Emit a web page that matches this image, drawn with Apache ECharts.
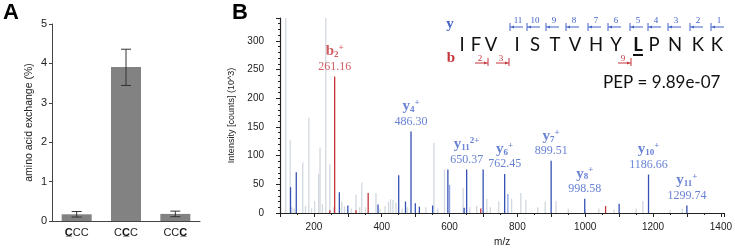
<!DOCTYPE html>
<html>
<head>
<meta charset="utf-8">
<script src="https://cdn.jsdelivr.net/npm/echarts@6/dist/echarts.min.js"></script>
<style>
  html, body { margin: 0; padding: 0; background: #fff; }
  #main { width: 735px; height: 252px; }
</style>
</head>
<body>
<div id="main"></div>
<script>
// ---- panel A data ----
const codons = ['C\u0332CC', 'CC\u0332C', 'CCC\u0332'];
const exchange = [0.17, 3.91, 0.18];
const errLow = [0.1, 3.44, 0.11];
const errHigh = [0.24, 4.36, 0.25];

// ---- panel B data: [m/z, intensity (10^3)] ----
const unassigned = [
  [117, 340], [130, 127], [135, 10], [142, 8], [167, 88], [175, 12], [185, 166], [193, 8],
  [202, 21], [214, 68], [218, 114], [225, 15], [235, 340], [247, 85], [258, 10], [282, 20],
  [290, 12], [310, 8], [324, 32], [335, 10], [341, 53], [352, 10], [383, 35], [395, 8],
  [410, 12], [420, 20], [426, 24], [433, 23], [442, 18], [460, 8], [475, 10], [530, 10],
  [554, 122], [565, 8], [585, 76], [640, 44], [660, 10], [680, 12], [710, 25], [720, 10],
  [745, 20], [783, 25], [810, 35], [825, 23], [860, 10], [882, 20], [914, 21], [950, 8],
  [1000, 6], [1040, 8], [1085, 6], [1150, 8], [1170, 21], [1250, 5], [1286, 8]
];
const yIons = [
  [131, 45], [148, 71], [275, 36], [300, 13], [389, 15], [450, 66], [470, 20], [486.30, 142],
  [499, 17], [511, 11], [550, 13], [595, 76], [643, 9], [650.37, 76], [699, 76], [762.45, 68],
  [899.51, 91], [998.58, 25], [1100, 16], [1186.66, 67], [1299.74, 13]
];
const yIonsLight = [[600, 49], [772, 33]];
const bIons = [[247, 5], [261.16, 238], [324, 5], [360, 35], [692, 8], [1060, 12]];

// labelled peaks: [m/z, intensity, ion, subscript, charge]
const labelled = [
  [261.16, 238, 'b', '2', '+'],
  [486.30, 142, 'y', '4', '+'],
  [650.37, 76, 'y', '11', '2+'],
  [762.45, 68, 'y', '6', '+'],
  [899.51, 91, 'y', '7', '+'],
  [998.58, 25, 'y', '8', '+'],
  [1186.66, 67, 'y', '10', '+'],
  [1299.74, 13, 'y', '11', '+']
];

const peptide = 'IFVISTVHYLPNKK';
const modifiedIndex = 9;
const yFragments = [11, 10, 9, 8, 7, 6, 5, 4, 3, 2, 1];
const bFragments = [2, 3, 9];
const pepScore = 'PEP = 9.89e-07';

const BLUE = '#3552b4';
const BLUE_TEXT = '#4263c9';
const RED = '#c4343a';
const GREY = '#d2d8df';

// layout of the sequence graphic (pixels)
const letterX = [462, 476, 491, 517, 535, 555, 575, 596, 616, 638, 654, 675, 698, 717];
const yTickX = [510, 527, 546, 566, 588, 608, 630, 648, 668, 690, 711];
const bBarX = [488, 509, 631];

const chart = echarts.init(document.getElementById('main'), null, { renderer: 'canvas' });

function peakItem(params, api) {
  const top = api.coord([api.value(0), api.value(1)]);
  const base = api.coord([api.value(0), 0]);
  return {
    type: 'line',
    shape: { x1: top[0], y1: top[1], x2: base[0], y2: base[1] },
    style: { stroke: api.visual('color'), lineWidth: 1.3 }
  };
}

function errItem(params, api) {
  const lo = api.coord([api.value(0), api.value(1)]);
  const hi = api.coord([api.value(0), api.value(2)]);
  const st = { stroke: '#333', lineWidth: 1 };
  return {
    type: 'group',
    children: [
      { type: 'line', shape: { x1: lo[0], y1: lo[1], x2: hi[0], y2: hi[1] }, style: st },
      { type: 'line', shape: { x1: lo[0] - 5, y1: lo[1], x2: lo[0] + 5, y2: lo[1] }, style: st },
      { type: 'line', shape: { x1: hi[0] - 5, y1: hi[1], x2: hi[0] + 5, y2: hi[1] }, style: st }
    ]
  };
}

function peakSeries(data, color, z) {
  return {
    type: 'custom', xAxisIndex: 1, yAxisIndex: 1, z: z,
    itemStyle: { color: color }, renderItem: peakItem, data: data, silent: true
  };
}

// sequence graphics
const graphics = [
  { type: 'text', left: 3, top: 2, style: { text: 'A', font: 'bold 22px "Liberation Sans"', fill: '#000' } },
  { type: 'text', left: 232, top: 2, style: { text: 'B', font: 'bold 22px "Liberation Sans"', fill: '#000' } },
  { type: 'text', x: 450, y: 24, style: { text: 'y', font: 'bold 15px "Liberation Serif"', fill: BLUE_TEXT, align: 'center', verticalAlign: 'middle' } },
  { type: 'text', x: 451, y: 58, style: { text: 'b', font: 'bold 15px "Liberation Serif"', fill: RED, align: 'center', verticalAlign: 'middle' } },
  { type: 'text', x: 603, y: 83, style: { text: pepScore, font: '17px Lato', fill: '#111', verticalAlign: 'middle' } }
];
peptide.split('').forEach(function (ch, i) {
  const bold = i === modifiedIndex;
  graphics.push({
    type: 'text', x: letterX[i], y: 45,
    style: { text: ch, font: (bold ? 'bold ' : '') + '18.5px Lato', fill: '#111', align: 'center', verticalAlign: 'middle' }
  });
  if (bold) {
    graphics.push({ type: 'line', shape: { x1: letterX[i] - 5, y1: 55, x2: letterX[i] + 5, y2: 55 }, style: { stroke: '#111', lineWidth: 2 } });
  }
});
yFragments.forEach(function (n, i) {
  const t = yTickX[i];
  graphics.push(
    { type: 'line', shape: { x1: t, y1: 23, x2: t, y2: 31 }, style: { stroke: BLUE_TEXT, lineWidth: 1 } },
    { type: 'line', shape: { x1: t, y1: 27, x2: t + 13, y2: 27 }, style: { stroke: BLUE_TEXT, lineWidth: 1 } },
    { type: 'polygon', shape: { points: [[t + 1, 27], [t + 4, 25.5], [t + 4, 28.5]] }, style: { fill: BLUE_TEXT } },
    { type: 'text', x: t + 8, y: 21, style: { text: String(n), font: '9px "Liberation Serif"', fill: BLUE_TEXT, align: 'center', verticalAlign: 'middle' } }
  );
});
bFragments.forEach(function (n, i) {
  const t = bBarX[i];
  graphics.push(
    { type: 'line', shape: { x1: t, y1: 58, x2: t, y2: 66 }, style: { stroke: RED, lineWidth: 1 } },
    { type: 'line', shape: { x1: t - 13, y1: 63, x2: t, y2: 63 }, style: { stroke: RED, lineWidth: 1 } },
    { type: 'polygon', shape: { points: [[t - 1, 63], [t - 4, 61.5], [t - 4, 64.5]] }, style: { fill: RED } },
    { type: 'text', x: t - 8, y: 59, style: { text: String(n), font: '9px "Liberation Serif"', fill: RED, align: 'center', verticalAlign: 'middle' } }
  );
});

const axisLineStyle = { lineStyle: { color: '#444', width: 1 } };

const option = {
  animation: false,
  textStyle: { fontFamily: '"Liberation Sans", Arial, sans-serif' },
  graphic: graphics,
  grid: [
    { left: 52, top: 24, width: 148, height: 197 },
    { left: 280, top: 18, right: 6, height: 203 }
  ],
  xAxis: [
    {
      type: 'category', gridIndex: 0, data: codons,
      axisLine: axisLineStyle, axisTick: { show: false },
      axisLabel: {
        color: '#222', fontSize: 11, margin: 6, interval: 0, hideOverlap: false,
        formatter: function (v) {
          return v.split('').reduce(function (acc, ch, i, arr) {
            if (ch === '\u0332') return acc;
            if (arr[i + 1] === '\u0332') return acc + '{u|' + ch + '\u0332}';
            return acc + '{n|' + ch + '}';
          }, '');
        },
        rich: { u: { fontWeight: 'bold', fontSize: 11, color: '#111' }, n: { fontSize: 11, color: '#222' } }
      }
    },
    {
      type: 'value', gridIndex: 1, min: 100, max: 1410, interval: 100,
      name: 'm/z', nameLocation: 'middle', nameGap: 24,
      nameTextStyle: { fontSize: 10, color: '#222' },
      splitLine: { show: false },
      axisLine: { lineStyle: { color: '#222', width: 1.2 } },
      axisTick: { length: 4, lineStyle: { color: '#222' } },
      minorTick: { show: true, splitNumber: 2, length: 2, lineStyle: { color: '#222' } },
      axisLabel: {
        color: '#222', fontSize: 10, margin: 9, showMaxLabel: false,
        formatter: function (v) { return v % 200 === 0 ? String(v) : ''; }
      }
    }
  ],
  yAxis: [
    {
      type: 'value', gridIndex: 0, min: 0, max: 5, interval: 1,
      name: 'amino acid exchange (%)', nameLocation: 'middle', nameGap: 17,
      nameTextStyle: { fontSize: 10.5, color: '#222' },
      splitLine: { show: false },
      axisLine: { show: true, lineStyle: { color: '#444', width: 1 } },
      axisTick: { show: true, length: 3, lineStyle: { color: '#444' } },
      axisLabel: { color: '#222', fontSize: 11, margin: 5 }
    },
    {
      type: 'value', gridIndex: 1, min: 0, max: 340, interval: 50,
      name: 'Intensity [counts] (10^3)', nameLocation: 'middle', nameGap: 32,
      nameTextStyle: { fontSize: 9, color: '#222' },
      splitLine: { show: false },
      axisLine: { show: true, lineStyle: { color: '#222', width: 1.2 } },
      axisTick: { show: true, length: 4, lineStyle: { color: '#222' } },
      minorTick: { show: true, splitNumber: 5, length: 2, lineStyle: { color: '#222' } },
      axisLabel: { color: '#222', fontSize: 10, margin: 16, showMaxLabel: false }
    }
  ],
  series: [
    {
      type: 'bar', xAxisIndex: 0, yAxisIndex: 0, data: exchange,
      barWidth: 30, itemStyle: { color: '#828282' }, silent: true
    },
    {
      type: 'custom', xAxisIndex: 0, yAxisIndex: 0, z: 5, renderItem: errItem,
      data: exchange.map(function (v, i) { return [i, errLow[i], errHigh[i]]; }), silent: true
    },
    peakSeries(unassigned, GREY, 2),
    peakSeries(yIonsLight, '#8ea3e6', 3),
    peakSeries(yIons, BLUE, 4),
    peakSeries(bIons, RED, 4),
    {
      type: 'scatter', xAxisIndex: 1, yAxisIndex: 1, symbolSize: 0, z: 6, silent: true,
      data: labelled.map(function (p) {
        const c = p[2] === 'b' ? RED : BLUE_TEXT;
        return {
          value: [p[0], p[1]],
          label: {
            show: true, position: 'top', distance: 3, align: 'center',
            formatter: '{ion|' + p[2] + '}{sub|' + p[3] + '}{sup|' + p[4] + '}\n{mass|' + p[0].toFixed(2) + '}',
            rich: {
              ion: { fontFamily: '"Liberation Serif"', fontWeight: 'bold', fontSize: 15, color: c, lineHeight: 16 },
              sub: { fontFamily: '"Liberation Serif"', fontWeight: 'bold', fontSize: 9, color: c, verticalAlign: 'bottom', lineHeight: 16 },
              sup: { fontFamily: '"Liberation Serif"', fontWeight: 'bold', fontSize: 9, color: c, verticalAlign: 'top', lineHeight: 16 },
              mass: { fontFamily: '"Liberation Serif"', fontSize: 12, color: c, lineHeight: 14 }
            }
          }
        };
      })
    }
  ]
};

chart.setOption(option);
</script>
</body>
</html>
